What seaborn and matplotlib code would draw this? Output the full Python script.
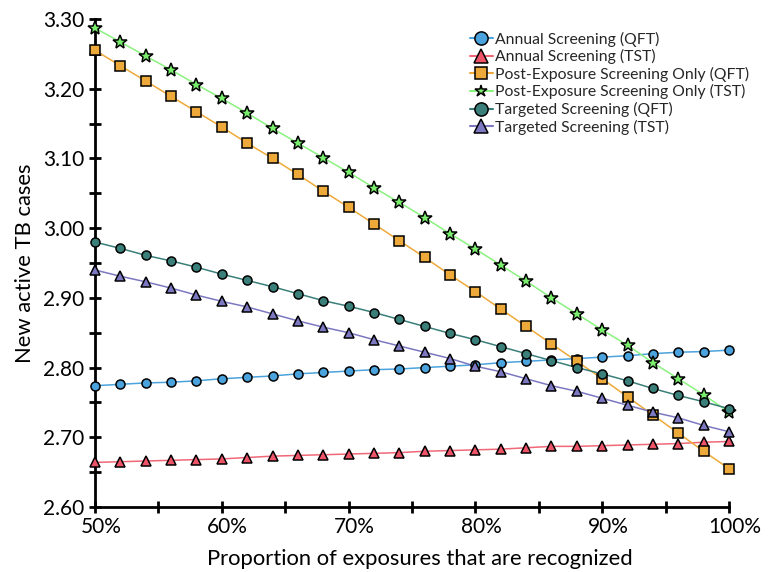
import numpy as np
import pandas as pd
import matplotlib
matplotlib.use("Agg")
import matplotlib.pyplot as plt
import matplotlib.transforms as mtransforms
from matplotlib.ticker import MultipleLocator, FuncFormatter
from matplotlib.lines import Line2D
import seaborn as sns

# Share of exposures recognized (%)
recognized = [50, 52, 54, 56, 58, 60, 62, 64, 66, 68, 70, 72, 74,
              76, 78, 80, 82, 84, 86, 88, 90, 92, 94, 96, 98, 100]

annual_qft = [2.774, 2.776, 2.778, 2.779, 2.781, 2.784, 2.786, 2.788, 2.791, 2.793,
              2.795, 2.797, 2.798, 2.800, 2.802, 2.804, 2.807, 2.809, 2.811, 2.813,
              2.815, 2.817, 2.820, 2.822, 2.823, 2.825]
annual_tst = [2.664, 2.665, 2.666, 2.667, 2.668, 2.669, 2.671, 2.673, 2.674, 2.675,
              2.676, 2.677, 2.678, 2.680, 2.681, 2.682, 2.683, 2.685, 2.687, 2.687,
              2.688, 2.689, 2.690, 2.691, 2.693, 2.694]
post_qft = [3.255, 3.233, 3.211, 3.189, 3.167, 3.145, 3.122, 3.100, 3.077, 3.053,
            3.030, 3.006, 2.982, 2.958, 2.933, 2.909, 2.884, 2.859, 2.834, 2.809,
            2.784, 2.758, 2.732, 2.706, 2.680, 2.655]
post_tst = [3.287, 3.267, 3.247, 3.227, 3.206, 3.186, 3.165, 3.143, 3.122, 3.101,
            3.080, 3.058, 3.037, 3.015, 2.992, 2.970, 2.947, 2.924, 2.900, 2.877,
            2.854, 2.832, 2.807, 2.784, 2.761, 2.736]
targeted_qft = [2.980, 2.971, 2.961, 2.953, 2.944, 2.934, 2.925, 2.916, 2.906, 2.896,
                2.888, 2.879, 2.869, 2.859, 2.849, 2.840, 2.830, 2.820, 2.810, 2.800,
                2.791, 2.781, 2.770, 2.760, 2.751, 2.741]
targeted_tst = [2.940, 2.931, 2.923, 2.914, 2.904, 2.895, 2.887, 2.877, 2.867, 2.858,
                2.850, 2.840, 2.831, 2.822, 2.813, 2.802, 2.794, 2.784, 2.774, 2.766,
                2.756, 2.746, 2.736, 2.728, 2.717, 2.708]

strategies = ["Annual Screening (QFT)", "Annual Screening (TST)",
              "Post-Exposure Screening Only (QFT)", "Post-Exposure Screening Only (TST)",
              "Targeted Screening (QFT)", "Targeted Screening (TST)"]
series = [annual_qft, annual_tst, post_qft, post_tst, targeted_qft, targeted_tst]

colors = ["#4ba3dd", "#ee5468", "#eda93a", "#79ee6c", "#3a7f79", "#7c78c2"]
line_colors = ["#4ba3dd", "#f06878", "#eda93a", "#8af27e", "#3a7f79", "#7c78c2"]
markers = ["o", "^", "s", "*", "o", "^"]
msizes = [6.5, 7.5, 7, 10, 6.5, 7.5]
legend_msizes = [9.5, 9.5, 9, 9, 9.5, 9.5]

df = pd.concat([
    pd.DataFrame({"recognized": recognized, "cases": vals, "strategy": name})
    for name, vals in zip(strategies, series)
], ignore_index=True)

sns.set_theme(style="white")
plt.rcParams["font.family"] = ["Lato", "DejaVu Sans"]

fig = plt.figure(figsize=(7.73, 5.72), dpi=100)
ax = fig.add_axes([0.1229, 0.1136, 0.8202, 0.8532])

for name, c, lc, m, ms in zip(strategies, colors, line_colors, markers, msizes):
    sub = df[df["strategy"] == name]
    sns.lineplot(data=sub, x="recognized", y="cases", ax=ax, color=lc,
                 linewidth=1.1, legend=False, zorder=2)
    ax.plot(sub["recognized"], sub["cases"], linestyle="none", marker=m,
            markersize=ms, markerfacecolor=c, markeredgecolor="black",
            markeredgewidth=1.1, clip_on=False, zorder=3)

ax.set_xlim(50, 100)
ax.set_ylim(2.60, 3.30)
ax.xaxis.set_major_locator(MultipleLocator(10))
ax.xaxis.set_minor_locator(MultipleLocator(5))
ax.yaxis.set_major_locator(MultipleLocator(0.1))
ax.yaxis.set_minor_locator(MultipleLocator(0.05))
ax.xaxis.set_major_formatter(FuncFormatter(lambda v, p: f"{v:.0f}%"))
ax.yaxis.set_major_formatter(FuncFormatter(lambda v, p: f"{v:.2f}"))

for side in ["top", "right"]:
    ax.spines[side].set_visible(False)
for side in ["left", "bottom"]:
    ax.spines[side].set_color("black")
    ax.spines[side].set_linewidth(2)

ax.tick_params(which="both", direction="inout", color="black", width=2,
               left=True, bottom=True, labelsize=15, labelcolor="black")
ax.tick_params(which="major", length=9, pad=3)
ax.tick_params(which="minor", length=9)

# nudge the percentage labels slightly to the right
shift = mtransforms.ScaledTranslation(6 / 100, 0, fig.dpi_scale_trans)
for lbl in ax.get_xticklabels():
    lbl.set_transform(lbl.get_transform() + shift)

ax.set_xlabel("Proportion of exposures that are recognized", fontsize=15.8,
              color="black", labelpad=6)
ax.xaxis.set_label_coords(0.513, -0.085)
ax.set_ylabel("New active TB cases", fontsize=15.8, color="black", labelpad=6)

handles = [Line2D([0], [0], color=lc, linewidth=1.5, marker=m, markersize=lms,
                  markerfacecolor=c, markeredgecolor="black", markeredgewidth=1.1)
           for c, lc, m, lms in zip(colors, line_colors, markers, legend_msizes)]
ax.legend(handles, strategies, loc="upper left", bbox_to_anchor=(0.5915, 0.974),
          frameon=False, fontsize=11.3, handlelength=1.45, handletextpad=0.12,
          labelspacing=0.16, borderpad=0, borderaxespad=0)

fig.savefig("out.png", dpi=100)
